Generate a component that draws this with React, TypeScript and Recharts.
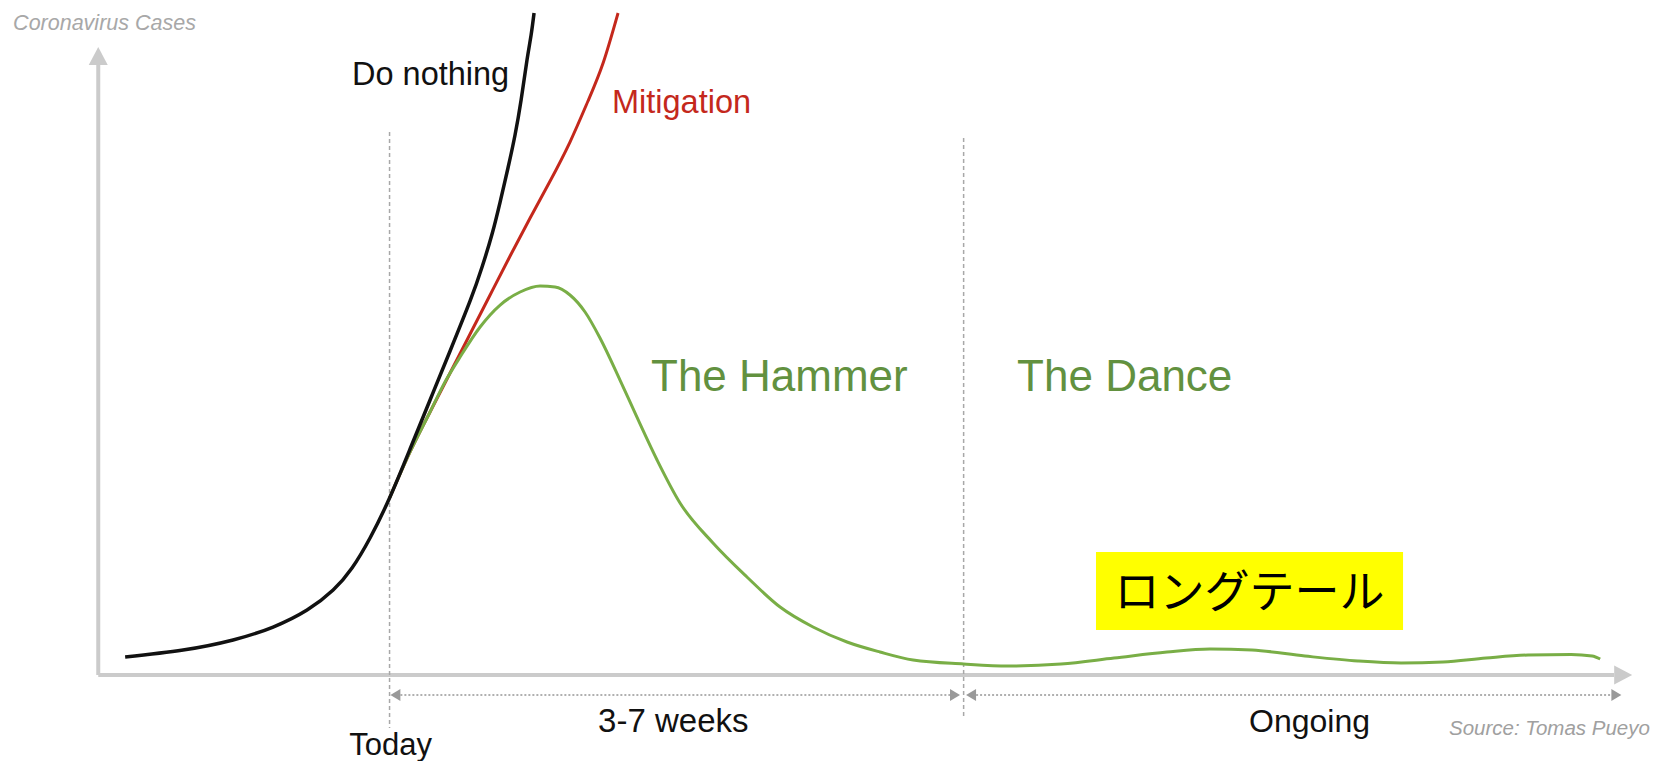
import React from 'react';
import { ComposedChart, Line, XAxis, YAxis, ReferenceLine, ReferenceDot, ReferenceArea } from 'recharts';

// x = days from "today", y = relative number of cases (arbitrary 0-100 scale)
const doNothingDays = [
  -16.12, -12.59, -9.54, -7.1, -5.03, -3.44, -2.29, -1.19, 0, 1.25, 2.47, 3.69, 4.91, 5.64, 6.25, 6.74, 7.22, 7.65, 8.02,
  8.38, 8.63, 8.81,
];
const doNothingCases = [
  2.67, 3.7, 5.19, 7.11, 9.63, 12.59, 15.85, 20.3, 26.22, 33.48, 40.74, 48.0, 55.41, 60.44, 65.33, 70.07, 75.11, 80.0,
  85.19, 91.11, 94.81, 98.07,
];

const mitigationDays = [0, 1.25, 2.47, 3.69, 4.91, 6.13, 7.35, 8.57, 9.79, 11.0, 12.1, 13.02, 13.93];
const mitigationCases = [26.22, 33.04, 38.96, 44.74, 50.52, 56.3, 62.07, 67.7, 73.19, 78.96, 85.04, 90.67, 98.07];

const hammerDays = [
  0, 1.25, 2.47, 3.38, 4.3, 5.52, 6.74, 7.96, 9.18, 10.09, 11.0, 11.92, 12.83, 14.05, 15.02, 16.31, 17.71, 19.72, 21.79,
  23.81, 25.82, 27.89, 29.9, 31.92, 35, 37.71, 40.94, 44.17, 47.4, 50.02, 52.58, 55.81, 59.04, 61.67, 64.23, 66.85,
  69.41, 72.04, 73.32, 73.81,
];
const hammerCases = [
  26.22, 33.04, 38.96, 43.41, 47.11, 51.56, 54.81, 56.74, 57.63, 57.48, 56.3, 53.78, 49.93, 43.7, 38.52, 31.85, 25.48,
  19.56, 14.52, 10.07, 7.11, 4.89, 3.41, 2.22, 1.63, 1.33, 1.63, 2.52, 3.41, 3.85, 3.7, 2.81, 2.07, 1.78, 1.93, 2.52,
  2.96, 3.04, 2.81, 2.37,
];

const phaseBoundaries = [0, 35]; // today, end of the hammer
const axisStart = -17.76;
const axisEnd = 75.76;
const yAxisTop = 93.04;

const toPoints = (days: number[], cases: number[]) => days.map((d, i) => ({ day: d, cases: cases[i] }));

const doNothing = toPoints(doNothingDays, doNothingCases);
const mitigation = toPoints(mitigationDays, mitigationCases);
const hammer = toPoints(hammerDays, hammerCases);

const SANS = '"Liberation Sans", Arial, Helvetica, sans-serif';

const head = (x: number, y: number, ux: number, uy: number, len: number, half: number) => {
  const bx = x - ux * len;
  const by = y - uy * len;
  return `${x},${y} ${bx - uy * half},${by + ux * half} ${bx + uy * half},${by - ux * half}`;
};

const AxisArrow = (props: any) => {
  const { x1, y1, x2, y2 } = props;
  const L = Math.hypot(x2 - x1, y2 - y1) || 1;
  const ux = (x2 - x1) / L;
  const uy = (y2 - y1) / L;
  const len = 18;
  return (
    <g>
      <line x1={x1} y1={y1} x2={x2 - ux * len} y2={y2 - uy * len} stroke="#cbcbcb" strokeWidth={4} />
      <polygon points={head(x2, y2, ux, uy, len, 9.5)} fill="#cbcbcb" />
    </g>
  );
};

const SpanArrow = (props: any) => {
  const { x1, y1, x2, y2 } = props;
  const L = Math.hypot(x2 - x1, y2 - y1) || 1;
  const ux = (x2 - x1) / L;
  const uy = (y2 - y1) / L;
  const len = 10;
  return (
    <g>
      <line
        x1={x1 + ux * len}
        y1={y1}
        x2={x2 - ux * len}
        y2={y2}
        stroke="#b0b0b0"
        strokeWidth={2}
        strokeDasharray="2 2"
      />
      <polygon points={head(x1, y1, -ux, -uy, len, 6)} fill="#999" />
      <polygon points={head(x2, y2, ux, uy, len, 6)} fill="#999" />
    </g>
  );
};

const label =
  (text: string, size: number, fill: string, anchor = 'start', italic = false, family = SANS) =>
  (p: any) =>
    (
      <text
        x={p.cx}
        y={p.cy}
        fontFamily={family}
        fontSize={size}
        fill={fill}
        textAnchor={anchor}
        fontStyle={italic ? 'italic' : 'normal'}
      >
        {text}
      </text>
    );

const App: React.FC = () => {
  return (
    <div style={{ position: 'absolute', left: 0, top: 0, width: 1664, height: 761, background: '#fff' }}>
      <ComposedChart width={1664} height={761} margin={{ top: 0, right: 0, bottom: 0, left: 0 }}>
        <XAxis type="number" dataKey="day" domain={[-23.75, 77.7]} allowDataOverflow hide />
        <YAxis type="number" dataKey="cases" domain={[-12.74, 100]} allowDataOverflow hide />

        {/* axes */}
        <ReferenceLine segment={[{ x: axisStart, y: 0 }, { x: axisEnd, y: 0 }]} shape={<AxisArrow />} />
        <ReferenceLine segment={[{ x: axisStart, y: 0 }, { x: axisStart, y: yAxisTop }]} shape={<AxisArrow />} />

        {/* phase markers */}
        <ReferenceLine
          segment={[{ x: phaseBoundaries[0], y: 80.44 }, { x: phaseBoundaries[0], y: -7.85 }]}
          stroke="#a8a8a8"
          strokeWidth={1.5}
          strokeDasharray="4 3"
        />
        <ReferenceLine
          segment={[{ x: phaseBoundaries[1], y: 79.56 }, { x: phaseBoundaries[1], y: -6.2 }]}
          stroke="#a8a8a8"
          strokeWidth={1.5}
          strokeDasharray="4 3"
        />
        <ReferenceLine segment={[{ x: 0.05, y: -2.96 }, { x: 34.78, y: -2.96 }]} shape={<SpanArrow />} />
        <ReferenceLine segment={[{ x: 35.15, y: -2.96 }, { x: 75.1, y: -2.96 }]} shape={<SpanArrow />} />

        <ReferenceArea x1={43.07} x2={61.79} y1={6.67} y2={18.22} fill="#ffff00" fillOpacity={1} stroke="none" />

        <Line data={mitigation} dataKey="cases" type="natural" stroke="#c4281c" strokeWidth={3} dot={false} activeDot={false} isAnimationActive={false} />
        <Line data={hammer} dataKey="cases" type="monotone" stroke="#79ae46" strokeWidth={3} dot={false} activeDot={false} isAnimationActive={false} />
        <Line data={doNothing} dataKey="cases" type="natural" stroke="#111" strokeWidth={3.5} dot={false} activeDot={false} isAnimationActive={false} />

        <ReferenceDot x={-22.95} y={95.56} r={1} shape={label('Coronavirus Cases', 21.5, '#a8a8a8', 'start', true)} />
        <ReferenceDot x={-2.29} y={87.41} r={1} shape={label('Do nothing', 32.5, '#111')} />
        <ReferenceDot x={13.56} y={83.26} r={1} shape={label('Mitigation', 32.5, '#c4281c')} />
        <ReferenceDot x={15.94} y={42.07} r={1} shape={label('The Hammer', 44, '#62913f')} />
        <ReferenceDot x={38.26} y={42.07} r={1} shape={label('The Dance', 44, '#62913f')} />
        <ReferenceDot x={0.06} y={-11.85} r={1} shape={label('Today', 31, '#111', 'middle')} />
        <ReferenceDot x={17.3} y={-8.44} r={1} shape={label('3-7 weeks', 33, '#111', 'middle')} />
        <ReferenceDot x={56.09} y={-8.44} r={1} shape={label('Ongoing', 32, '#111', 'middle')} />
        <ReferenceDot x={76.84} y={-8.89} r={1} shape={label('Source: Tomas Pueyo', 20.5, '#a0a0a0', 'end', true)} />
        <ReferenceDot
          x={52.43}
          y={10.0}
          r={1}
          shape={label('ロングテール', 45, '#000', 'middle', false, '"Noto Sans CJK JP", sans-serif')}
        />
      </ComposedChart>
    </div>
  );
};

export default App;
